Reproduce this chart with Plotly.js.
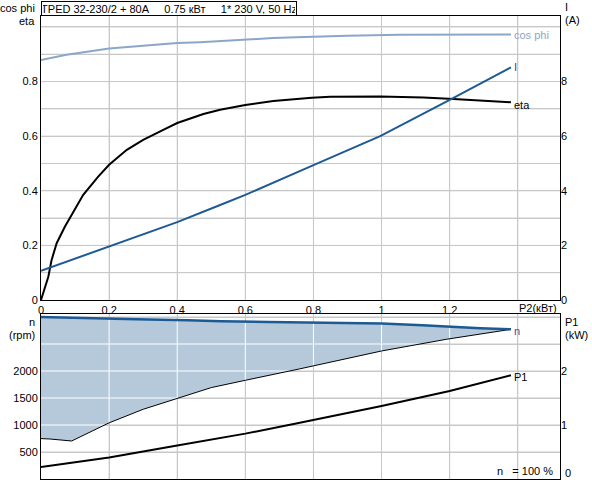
<!DOCTYPE html>
<html>
<head>
<meta charset="utf-8">
<script src="https://cdn.plot.ly/plotly-3.0.1.min.js"></script>
<style>
  body { margin: 0; background: #fff; }
  #chart { width: 592px; height: 480px; }
</style>
</head>
<body>
<div id="chart"></div>
<script>
// top panel: P2 (kW) vs cos phi / eta / I
var cosX = [0, 0.075, 0.2, 0.32, 0.4, 0.467, 0.6, 0.68, 0.75, 0.9, 1.05, 1.2, 1.38]
var cosY = [0.879, 0.898, 0.921, 0.934, 0.941, 0.944, 0.955, 0.959, 0.962, 0.968, 0.971, 0.972, 0.972]

var etaX = [0, 0.0215, 0.031, 0.046, 0.07, 0.095, 0.124, 0.168, 0.2, 0.252, 0.3, 0.359, 0.4, 0.477, 0.526, 0.6, 0.682, 0.795, 0.849, 0.996, 1.123, 1.211, 1.299, 1.38]
var etaY = [0, 0.085, 0.146, 0.208, 0.268, 0.323, 0.385, 0.452, 0.495, 0.55, 0.586, 0.623, 0.648, 0.681, 0.697, 0.714, 0.729, 0.741, 0.744, 0.745, 0.742, 0.736, 0.73, 0.724]

var curX = [0, 0.2, 0.4, 0.526, 0.6, 0.795, 0.996, 1.196, 1.38]
var curY = [1.07, 1.95, 2.85, 3.48, 3.85, 4.91, 6.0, 7.3, 8.52]

// bottom panel: speed range (rpm) and P1 (kW)
var nX = [0, 0.16, 0.28, 0.43, 0.53, 0.67, 0.76, 1.0, 1.12, 1.19, 1.29, 1.38]
var nY = [3000, 2985, 2960, 2940, 2920, 2908, 2900, 2878, 2848, 2822, 2792, 2772]

var lowX = [0, 0.026, 0.09, 0.2, 0.3, 0.4, 0.5, 0.6, 0.7, 0.76, 1.0, 1.19, 1.38]
var lowY = [748, 741, 704, 1040, 1291, 1495, 1693, 1828, 1960, 2040, 2371, 2587, 2772]

var p1X = [0, 0.09, 0.2, 0.4, 0.6, 0.76, 1.0, 1.2, 1.38]
var p1Y = [0.22, 0.3, 0.4, 0.62, 0.84, 1.04, 1.35, 1.63, 1.92]

var xTicks = [0, 0.2, 0.4, 0.6, 0.8, 1, 1.2, 1.4]
var xTickText = ['0', '0.2', '0.4', '0.6', '0.8', '1', '1.2', '']
var etaTicks = [0, 0.1, 0.2, 0.3, 0.4, 0.5, 0.6, 0.7, 0.8, 0.9, 1.0]
var etaTickText = ['0', '', '0.2', '', '0.4', '', '0.6', '', '0.8', '', '']
var ampTicks = [0, 2, 4, 6, 8]
var rpmTicks = [500, 1000, 1500, 2000, 2500, 3000]
var rpmTickText = ['500', '1000', '1500', '2000', '', '']
var kwTicks = [1, 2]

var XMAX = 1.524, ETAMAX = 1.04, AMAX = 10.4, RPMMAX = 3050, KWMAX = 3.05

var BLUE = '#1d5a94'
var LIGHT = '#8ba7c7'
var GRID = '#c8c8c8'
var FONT = 'Liberation Sans, Arial, sans-serif'

function interp(xs, ys, x) {
    for (var i = 1; i < xs.length; i++) {
        if (x <= xs[i]) {
            var t = (x - xs[i - 1]) / (xs[i] - xs[i - 1])
            return ys[i - 1] + t * (ys[i] - ys[i - 1])
        }
    }
    return ys[ys.length - 1]
}

// grid lines as line traces too, built from the tick arrays
function gridLines(xt, yt, ymax) {
    var gx = [], gy = []
    xt.forEach(function(v) { if (v > 0) { gx.push(v, v, null); gy.push(0, ymax, null) } })
    yt.forEach(function(v) { if (v > 0) { gx.push(0, XMAX, null); gy.push(v, v, null) } })
    return {x: gx, y: gy}
}
var topGrid = gridLines(xTicks, etaTicks, ETAMAX)
var botGrid = gridLines(xTicks, rpmTicks, RPMMAX)

// white grid lines over the filled speed range
var wx = [], wy = []
xTicks.forEach(function(v) {
    if (v <= 0 || v >= lowX[lowX.length - 1]) return
    wx.push(v, v, null)
    wy.push(interp(lowX, lowY, v), interp(nX, nY, v), null)
})
rpmTicks.forEach(function(r) {
    if (r >= nY[nY.length - 1]) return
    var xc = null
    for (var i = 1; i < lowX.length; i++) {
        if (lowY[i - 1] < r && lowY[i] >= r) {
            xc = lowX[i - 1] + (r - lowY[i - 1]) / (lowY[i] - lowY[i - 1]) * (lowX[i] - lowX[i - 1])
        }
    }
    if (xc === null) return
    wx.push(0, xc, null)
    wy.push(r, r, null)
})

var traces = [
    {x: topGrid.x, y: topGrid.y, xaxis: 'x', yaxis: 'y', mode: 'lines', line: {color: GRID, width: 1, simplify: false}},
    {x: cosX, y: cosY, xaxis: 'x', yaxis: 'y', mode: 'lines', line: {color: LIGHT, width: 2}},
    {x: etaX, y: etaY, xaxis: 'x', yaxis: 'y', mode: 'lines', line: {color: '#000', width: 2}},
    {x: curX, y: curY, xaxis: 'x', yaxis: 'y2', mode: 'lines', line: {color: BLUE, width: 2}},
    {x: botGrid.x, y: botGrid.y, xaxis: 'x2', yaxis: 'y3', mode: 'lines', line: {color: GRID, width: 1, simplify: false}},
    {x: lowX, y: lowY, xaxis: 'x2', yaxis: 'y3', mode: 'lines', line: {color: 'rgba(0,0,0,0)', width: 0}},
    {x: nX, y: nY, xaxis: 'x2', yaxis: 'y3', mode: 'lines', fill: 'tonexty', fillcolor: '#b5c9db', line: {color: 'rgba(0,0,0,0)', width: 0}},
    {x: wx, y: wy, xaxis: 'x2', yaxis: 'y3', mode: 'lines', line: {color: '#fff', width: 1, simplify: false}},
    {x: lowX, y: lowY, xaxis: 'x2', yaxis: 'y3', mode: 'lines', line: {color: '#000', width: 1}},
    {x: nX, y: nY, xaxis: 'x2', yaxis: 'y3', mode: 'lines', line: {color: BLUE, width: 2.5}},
    {x: p1X, y: p1Y, xaxis: 'x2', yaxis: 'y4', mode: 'lines', line: {color: '#000', width: 2}}
]

var axisBase = {
    showline: true, linecolor: '#000', linewidth: 1, mirror: true,
    ticks: '', zeroline: false, showgrid: true, gridcolor: GRID, gridwidth: 1,
    tickfont: {family: FONT, size: 11, color: '#000'}
}

function ann(text, x, y, xa, opts) {
    var a = {text: text, x: x, y: y, xref: 'paper', yref: 'paper', xanchor: xa, yanchor: 'middle',
        showarrow: false, font: {family: FONT, size: 11, color: '#000'}}
    return Object.assign(a, opts || {})
}

function endLabel(text, xs, ys, xref, yref, color, yshift) {
    return {text: text, x: xs[xs.length - 1], y: ys[ys.length - 1], xref: xref, yref: yref,
        xanchor: 'left', yanchor: 'middle', xshift: 1, yshift: yshift, showarrow: false,
        font: {family: FONT, size: 11, color: color}}
}

var layout = {
    width: 592, height: 480,
    margin: {l: 41, r: 32, t: 16, b: 1},
    paper_bgcolor: '#fff', plot_bgcolor: '#fff',
    showlegend: false,
    xaxis: Object.assign({}, axisBase, {domain: [0, 1], anchor: 'y', range: [0, XMAX], tickmode: 'array', tickvals: xTicks, ticktext: xTickText}),
    yaxis: Object.assign({}, axisBase, {domain: [0.3866, 1], anchor: 'x', range: [0, ETAMAX], tickmode: 'array', tickvals: etaTicks, ticktext: etaTickText}),
    yaxis2: Object.assign({}, axisBase, {overlaying: 'y', side: 'right', anchor: 'x', range: [0, AMAX], tickmode: 'array', tickvals: ampTicks, showgrid: false, showline: false}),
    xaxis2: Object.assign({}, axisBase, {domain: [0, 1], anchor: 'y3', range: [0, XMAX], tickmode: 'array', tickvals: xTicks, showticklabels: false}),
    yaxis3: Object.assign({}, axisBase, {domain: [0, 0.3557], anchor: 'x2', range: [0, RPMMAX], tickmode: 'array', tickvals: rpmTicks, ticktext: rpmTickText}),
    yaxis4: Object.assign({}, axisBase, {overlaying: 'y3', side: 'right', anchor: 'x2', range: [0, KWMAX], tickmode: 'array', tickvals: kwTicks, showgrid: false, showline: false}),
    annotations: [
        ann('TPED 32-230/2 + 80A\u00a0\u00a0\u00a0\u00a0\u00a00.75 кВт\u00a0\u00a0\u00a0\u00a0\u00a01* 230 V, 50 Hz', 0, 1, 'left',
            {yanchor: 'bottom', bordercolor: '#000', borderwidth: 1, borderpad: 1, bgcolor: '#fff', width: 252, height: 11}),
        ann('cos phi', -0.008, 1.0173, 'right'),
        ann('eta', -0.008, 0.9892, 'right'),
        ann('I', 1.0058, 1.0194, 'left'),
        ann('(A)', 1.0058, 0.9914, 'left'),
        ann('P2(кВт)', 0.9576, 0.3693, 'center'),
        ann('n', -0.008, 0.3391, 'right'),
        ann('(rpm)', -0.008, 0.311, 'right'),
        ann('P1', 1.0058, 0.3391, 'left'),
        ann('(kW)', 1.0058, 0.311, 'left'),
        ann('0', 1.0058, 0.013, 'left'),
        ann('n\u00a0\u00a0\u00a0= 100 %', 0.9904, 0.0173, 'right'),
        endLabel('cos phi', cosX, cosY, 'x', 'y', LIGHT, 0),
        endLabel('I', curX, curY, 'x', 'y2', '#3b3fa8', 0),
        endLabel('eta', etaX, etaY, 'x', 'y', '#000', -3),
        endLabel('n', nX, nY, 'x2', 'y3', BLUE, -2),
        endLabel('P1', p1X, p1Y, 'x2', 'y4', '#000', -2)
    ]
}

Plotly.newPlot('chart', traces, layout, {displayModeBar: false})
</script>
</body>
</html>
